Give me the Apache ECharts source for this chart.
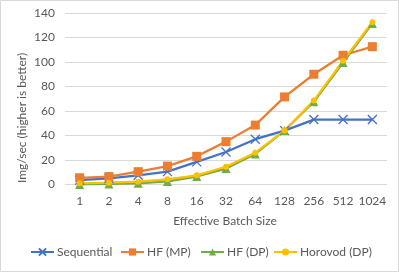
<!DOCTYPE html>
<html><head><meta charset="utf-8">
<script src="https://cdn.jsdelivr.net/npm/echarts@6/dist/echarts.min.js"></script>
<style>html,body{margin:0;padding:0;background:#fff}#c{width:399px;height:272px}</style>
</head><body><div id="c"></div>
<script>
var categories = ['1','2','4','8','16','32','64','128','256','512','1024'];
var sequential = [3.5, 5, 7.5, 10.5, 18.5, 26.5, 37, 44, 53, 53, 53];
var hfMP = [5.5, 6.5, 10.5, 15, 23, 35, 48.5, 71.5, 90, 105.5, 112.5];
var hfDP = [0, 0.5, 1, 2.5, 6.5, 13, 25, 44, 67.5, 99.5, 131.5];
var horovod = [1, 1.5, 2.3, 4.2, 7.5, 14.5, 26, 44, 68.5, 101, 132.5];
var yTicks = {min: 0, max: 140, interval: 20};

var FONT = 'Lato';
var TXT = '#595959';
var chart = echarts.init(document.getElementById('c'), null, {renderer: 'canvas'});
function legend(name, left) {
  return {data: [name], left: left, top: 246, itemWidth: 23, itemHeight: 9,
    textStyle: {color: TXT, fontFamily: FONT, fontSize: 12, padding: [0,0,0,-2]}, padding: 0};
}
chart.setOption({
  animation: false,
  backgroundColor: '#fff',
  graphic: [
    {type: 'rect', shape: {x: 0.5, y: 0.5, width: 398, height: 271}, style: {fill: 'none', stroke: '#d9d9d9', lineWidth: 1}, silent: true},
    {type: 'text', x: 22, y: 118, rotation: Math.PI/2, style: {text: 'Img/sec (higher is better)', fill: TXT, font: '12px ' + FONT, align: 'center', verticalAlign: 'middle'}},
    {type: 'text', x: 225, y: 221, style: {text: 'Effective Batch Size', fill: TXT, font: '12px ' + FONT, align: 'center', verticalAlign: 'middle'}}
  ],
  legend: [legend('Sequential', 30), legend('HF (MP)', 120), legend('HF (DP)', 200), legend('Horovod (DP)', 273)],
  grid: {left: 65, right: 12, top: 13, bottom: 87.5},
  xAxis: {type: 'category', data: categories, boundaryGap: true,
    axisLine: {show: false}, axisTick: {show: false},
    axisLabel: {interval: 0, hideOverlap: false, color: TXT, fontFamily: FONT, fontSize: 12, margin: 11}},
  yAxis: {type: 'value', min: yTicks.min, max: yTicks.max, interval: yTicks.interval,
    axisLine: {show: false}, axisTick: {show: false},
    axisLabel: {color: TXT, fontFamily: FONT, fontSize: 12, margin: 10},
    splitLine: {lineStyle: {color: '#d9d9d9', width: 1}}},
  series: [
    {name: 'Sequential', type: 'line', data: sequential, symbol: 'path://M0,0L10,10M10,0L0,10', symbolSize: 9,
      lineStyle: {color: '#4472C4', width: 2.25}, itemStyle: {color: '#4472C4', borderColor: '#4472C4', borderWidth: 1.3}},
    {name: 'HF (MP)', type: 'line', data: hfMP, symbol: 'rect', symbolSize: 9,
      lineStyle: {color: '#ED7D31', width: 2.25}, itemStyle: {color: '#ED7D31'}},
    {name: 'HF (DP)', type: 'line', data: hfDP, symbol: 'triangle', symbolSize: 9,
      lineStyle: {color: '#70AD47', width: 2.25}, itemStyle: {color: '#70AD47'}},
    {name: 'Horovod (DP)', type: 'line', data: horovod, symbol: 'circle', symbolSize: 6,
      lineStyle: {color: '#FFC000', width: 2.25}, itemStyle: {color: '#FFC000'}}
  ]
});
</script></body></html>
